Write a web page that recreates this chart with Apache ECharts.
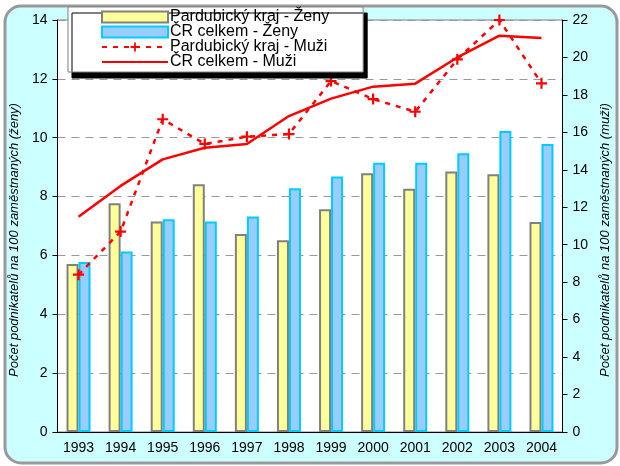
<!DOCTYPE html>
<html>
<head>
<meta charset="utf-8">
<script src="https://cdn.jsdelivr.net/npm/echarts@6/dist/echarts.min.js"></script>
<style>
  html, body { margin: 0; padding: 0; background: #fff; }
  #chart { width: 620px; height: 466px; }
</style>
</head>
<body>
<div id="chart"></div>
<script>
var years = ["1993", "1994", "1995", "1996", "1997", "1998", "1999", "2000", "2001", "2002", "2003", "2004"];
// zeny - left axis
var pkZeny = [5.71, 7.77, 7.15, 8.42, 6.73, 6.52, 7.57, 8.79, 8.27, 8.85, 8.76, 7.14];
var crZeny = [5.78, 6.13, 7.23, 7.15, 7.32, 8.28, 8.68, 9.15, 9.15, 9.47, 10.23, 9.79];
// muzi - right axis
var pkMuzi = [8.4, 10.7, 16.7, 15.38, 15.77, 15.91, 18.74, 17.78, 17.1, 19.9, 22.0, 18.62];
var crMuzi = [11.5, 13.14, 14.56, 15.18, 15.38, 16.87, 17.8, 18.44, 18.6, 20.0, 21.16, 21.04];

var font = "'Liberation Sans', Arial, sans-serif";
var plus = "path://M4,0H6V4H10V6H6V10H4V6H0V4H4Z";

var myChart = echarts.init(document.getElementById('chart'));

var option = {
  animation: false,
  textStyle: { fontFamily: font, color: '#000' },
  graphic: [{
    type: 'rect',
    z: -100,
    shape: { x: 5, y: 6, width: 612, height: 457, r: 16 },
    style: { fill: '#CCFFFF', stroke: '#999999', lineWidth: 3 }
  }],
  legend: {
    orient: 'vertical',
    left: 68,
    top: 7,
    padding: [2, 34, 2, 33],
    itemGap: -1,
    itemWidth: 66,
    itemHeight: 11,
    backgroundColor: '#fff',
    borderColor: '#808080',
    borderWidth: 1,
    shadowColor: '#000',
    shadowBlur: 0,
    shadowOffsetX: 4,
    shadowOffsetY: 6,
    textStyle: { fontFamily: font, fontSize: 16, color: '#000', lineHeight: 14.5, padding: [0, 0, 0, -3] },
    data: [
      { name: 'Pardubický kraj - Ženy', icon: 'rect' },
      { name: 'ČR celkem - Ženy', icon: 'rect' },
      { name: 'Pardubický kraj - Muži' },
      { name: 'ČR celkem - Muži', itemStyle: { color: 'rgba(0,0,0,0)', borderWidth: 0 } }
    ]
  },
  grid: {
    left: 52, right: 42, top: 20, bottom: 34,
    show: true,
    backgroundColor: '#fff',
    borderColor: '#808080',
    borderWidth: 1
  },
  xAxis: {
    type: 'category',
    data: years,
    axisLine: { lineStyle: { color: '#000', width: 1 } },
    axisTick: { length: 5, lineStyle: { color: '#000' } },
    axisLabel: { fontFamily: font, fontSize: 14, color: '#000', margin: 9 }
  },
  yAxis: [{
    type: 'value',
    min: 0, max: 14, interval: 2,
    name: 'Počet podnikatelů na 100 zaměstnaných (ženy)',
    nameLocation: 'middle',
    nameRotate: 90,
    nameGap: 23,
    nameTextStyle: { fontFamily: font, fontSize: 13, fontStyle: 'italic', color: '#000', padding: [0, 28, 0, 0] },
    axisLine: { show: true, lineStyle: { color: '#000' } },
    axisTick: { show: true, length: 5, lineStyle: { color: '#000' } },
    axisLabel: { fontFamily: font, fontSize: 14, color: '#000', margin: 10 },
    splitLine: { lineStyle: { color: '#999', type: [8, 6], width: 1 } }
  }, {
    type: 'value',
    min: 0, max: 22, interval: 2,
    name: 'Počet podnikatelů na 100 zaměstnaných (muži)',
    nameLocation: 'middle',
    nameRotate: 90,
    nameGap: 26,
    nameTextStyle: { fontFamily: font, fontSize: 13, fontStyle: 'italic', color: '#000', padding: [0, 28, 0, 0] },
    axisLine: { show: true, lineStyle: { color: '#000' } },
    axisTick: { show: true, length: 5, lineStyle: { color: '#000' } },
    axisLabel: { fontFamily: font, fontSize: 14, color: '#000', margin: 10 },
    splitLine: { show: false }
  }],
  series: [{
    name: 'Pardubický kraj - Ženy',
    type: 'bar',
    yAxisIndex: 0,
    barWidth: 12,
    barGap: '0%',
    itemStyle: { color: '#FFFF99', borderColor: '#808080', borderWidth: 2 },
    data: pkZeny
  }, {
    name: 'ČR celkem - Ženy',
    type: 'bar',
    yAxisIndex: 0,
    barWidth: 12,
    barGap: '0%',
    itemStyle: { color: '#99CCFF', borderColor: '#00CCFF', borderWidth: 2 },
    data: crZeny
  }, {
    name: 'Pardubický kraj - Muži',
    type: 'line',
    yAxisIndex: 1,
    symbol: plus,
    symbolSize: 11,
    itemStyle: { color: '#FF0000' },
    lineStyle: { color: '#FF0000', width: 2.5, type: [5, 6] },
    data: pkMuzi
  }, {
    name: 'ČR celkem - Muži',
    type: 'line',
    yAxisIndex: 1,
    symbol: 'none',
    itemStyle: { color: '#FF0000' },
    lineStyle: { color: '#FF0000', width: 2.5 },
    data: crMuzi
  }]
};

myChart.setOption(option);
</script>
</body>
</html>
